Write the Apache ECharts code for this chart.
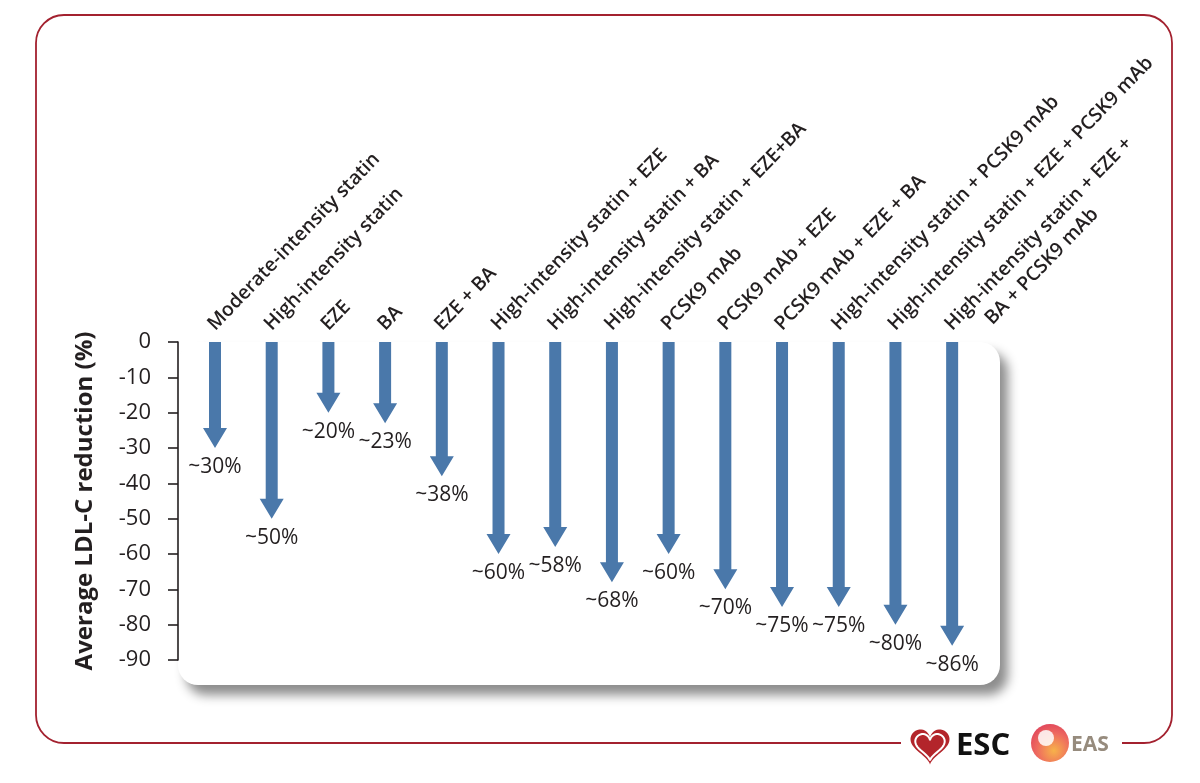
<!DOCTYPE html>
<html>
<head>
<meta charset="utf-8">
<style>
  html, body { margin: 0; padding: 0; background: #ffffff; }
  #chart { width: 1200px; height: 783px; }
</style>
<script src="https://cdn.jsdelivr.net/npm/echarts@6/dist/echarts.min.js"></script>
</head>
<body>
<div id="chart"></div>
<script>
// ---- data ----
const categories = [
  'Moderate-intensity statin',
  'High-intensity statin',
  'EZE',
  'BA',
  'EZE + BA',
  'High-intensity statin + EZE',
  'High-intensity statin + BA',
  'High-intensity statin + EZE+BA',
  'PCSK9 mAb',
  'PCSK9 mAb + EZE',
  'PCSK9 mAb + EZE + BA',
  'High-intensity statin + PCSK9 mAb',
  'High-intensity statin + EZE + PCSK9 mAb',
  'High-intensity statin + EZE +\nBA + PCSK9 mAb'
];
const reductions = [-30, -50, -20, -23, -38, -60, -58, -68, -60, -70, -75, -75, -80, -86];
const yTicks = { min: -90, max: 0, interval: 10 };
const yAxisTitle = 'Average LDL-C reduction (%)';

// ---- chart ----
const chart = echarts.init(document.getElementById('chart'));
const ARROW = '#4a78aa';
const FONT = '"Open Sans", "Noto Sans", sans-serif';

function heartPoints(cx, cy, s) {
  const pts = [];
  for (let k = 0; k < 72; k++) {
    const t = k / 72 * Math.PI * 2;
    const hx = 16 * Math.pow(Math.sin(t), 3);
    const hy = -(13 * Math.cos(t) - 5 * Math.cos(2 * t) - 2 * Math.cos(3 * t) - Math.cos(4 * t));
    pts.push([cx + hx * s, cy + hy * s]);
  }
  return pts;
}

function renderArrow(params, api) {
  const idx = api.value(0);
  const v = api.value(1);
  const top = api.coord([idx, 0]);
  const tip = api.coord([idx, v]);
  const x = top[0];
  const sh = 6, hh = 12, hl = 20;
  const children = [
    {
      type: 'polygon',
      shape: { points: [
        [x - sh, top[1]], [x + sh, top[1]], [x + sh, tip[1] - hl], [x + hh, tip[1] - hl],
        [x, tip[1]], [x - hh, tip[1] - hl], [x - sh, tip[1] - hl]
      ] },
      style: { fill: ARROW }
    },
    {
      type: 'text',
      x: x, y: tip[1] + 19,
      style: {
        text: '~' + Math.abs(v) + '%', fill: '#231f20',
        font: '400 21px ' + FONT, align: 'center', verticalAlign: 'middle'
      }
    }
  ];
  const lines = categories[idx].split('\n');
  const ang = 46 * Math.PI / 180;
  const rx = Math.cos(ang), ry = -Math.sin(ang);   // reading direction
  const dx = Math.sin(ang), dy = Math.cos(ang);    // down direction
  lines.forEach(function (ln, k) {
    const ax = x + 3 + k * (32 * rx + 25 * dx);
    const ay = top[1] - 8 + k * (32 * ry + 25 * dy);
    children.push({
      type: 'text',
      x: ax, y: ay, rotation: ang,
      style: {
        text: ln, fill: '#231f20',
        font: '600 19.4px ' + FONT, align: 'left', verticalAlign: 'bottom'
      }
    });
  });
  return { type: 'group', children: children };
}

const option = {
  backgroundColor: '#ffffff',
  animation: false,
  graphic: [
    {
      type: 'rect', z: -10, silent: true,
      shape: { x: 36, y: 15, width: 1136, height: 728, r: 28 },
      style: { fill: 'none', stroke: '#a3212f', lineWidth: 1.8 }
    },
    {
      type: 'rect', z: -9, silent: true,
      shape: { x: 901, y: 735, width: 221, height: 16 },
      style: { fill: '#ffffff' }
    },
    {
      type: 'rect', z: -8, silent: true,
      shape: { x: 178, y: 342, width: 822, height: 343, r: 20 },
      style: {
        fill: '#ffffff', shadowBlur: 11, shadowOffsetX: 8, shadowOffsetY: 10,
        shadowColor: 'rgba(0,0,0,0.45)'
      }
    },
    // ESC logo
    {
      type: 'polygon', z: 5, silent: true,
      shape: { points: heartPoints(930, 744, 1.22) },
      style: { fill: '#b3252b' }
    },
    {
      type: 'polygon', z: 6, silent: true,
      shape: { points: heartPoints(930, 745, 0.92) },
      style: { fill: '#b3252b', stroke: '#ffffff', lineWidth: 2 }
    },
    {
      type: 'text', z: 6, silent: true, x: 956, y: 746,
      style: { text: 'ESC', fill: '#111111', font: '700 31px ' + FONT, verticalAlign: 'middle' }
    },
    // EAS logo
    {
      type: 'circle', z: 5, silent: true,
      shape: { cx: 1050, cy: 743, r: 19 },
      style: {
        fill: {
          type: 'radial', x: 0.6, y: 0.7, r: 0.9,
          colorStops: [
            { offset: 0, color: '#f7b24a' },
            { offset: 0.5, color: '#ee6a5f' },
            { offset: 1, color: '#d9325a' }
          ]
        }
      }
    },
    {
      type: 'circle', z: 6, silent: true,
      shape: { cx: 1046, cy: 738, r: 8 },
      style: { fill: '#ffffff', opacity: 0.85 }
    },
    {
      type: 'text', z: 6, silent: true, x: 1071, y: 745,
      style: { text: 'EAS', fill: '#968b7d', font: '700 21px ' + FONT, verticalAlign: 'middle' }
    }
  ],
  grid: { left: 186.65, right: 219.5, top: 342, bottom: 123, containLabel: false },
  xAxis: {
    type: 'category', data: categories.map(function (_, i) { return i; }),
    show: false
  },
  yAxis: {
    type: 'value', min: yTicks.min, max: yTicks.max, interval: yTicks.interval,
    offset: 8.65,
    name: yAxisTitle, nameLocation: 'middle', nameGap: 81, nameRotate: 90,
    nameTextStyle: { fontFamily: FONT, fontWeight: 700, fontSize: 24, color: '#231f20' },
    axisLine: { show: true, lineStyle: { color: '#231f20', width: 1.6 } },
    axisTick: { show: true, length: 10, lineStyle: { color: '#231f20', width: 1.6 } },
    axisLabel: { margin: 27, fontFamily: FONT, fontSize: 22, color: '#231f20' },
    splitLine: { show: false }
  },
  series: [{
    type: 'custom',
    renderItem: renderArrow,
    data: reductions.map(function (v, i) { return [i, v]; }),
    clip: false
  }]
};
chart.setOption(option);
</script>
</body>
</html>
